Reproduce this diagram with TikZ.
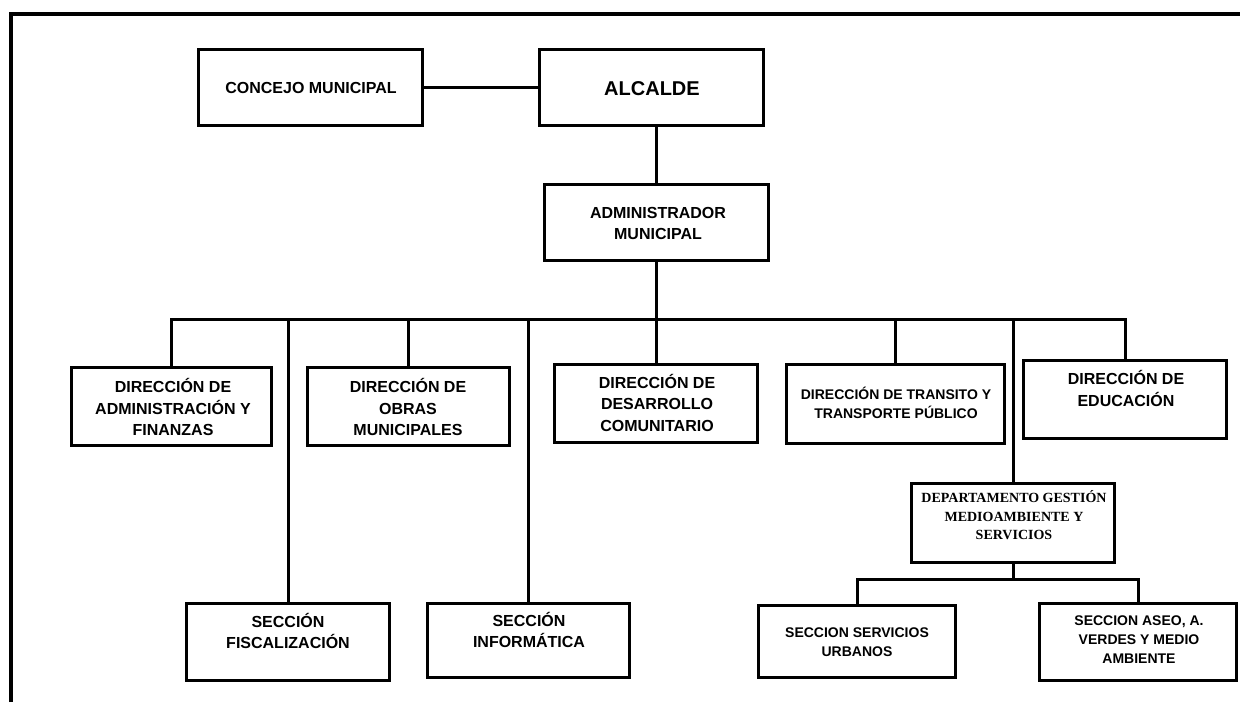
\documentclass[tikz,border=0pt]{standalone}
\usepackage{fontspec}
\setmainfont{Liberation Sans}
\newfontfamily\serifbold{Liberation Serif}
\usetikzlibrary{calc}
\begin{document}
\begin{tikzpicture}[x=1pt,y=-1pt,
  orgbox/.style={draw, line width=3pt, inner sep=0pt, rectangle},
  link/.style={line width=3pt},
  frame/.style={line width=4pt},
  tbig/.style={font=\bfseries\fontsize{20}{24}\selectfont, align=center, inner sep=0pt},
  tmid/.style={font=\bfseries\fontsize{16}{21.5}\selectfont, align=center, inner sep=0pt},
  tsmall/.style={font=\bfseries\fontsize{14}{19}\selectfont, align=center, inner sep=0pt},
  tserif/.style={font=\serifbold\bfseries\fontsize{14}{18.5}\selectfont, align=center, inner sep=0pt}
]
\useasboundingbox (0,0) rectangle (1240,702);
\fill[white] (0,0) rectangle (1240,702);

% outer frame
\coordinate (fA) at (10.5,702);
\coordinate (fB) at (10.5,14);
\coordinate (fC) at (1240,14);
\draw[frame] (fA) -- (fB) -- (fC);

% boxes
\node[orgbox, minimum width=224pt, minimum height=76pt] (conc) at (310.5,87.5) {};
\node[orgbox, minimum width=224pt, minimum height=76pt] (alc) at (651.5,87.5) {};
\node[orgbox, minimum width=224pt, minimum height=76pt] (adm) at (656.5,222.5) {};
\node[orgbox, minimum width=200pt, minimum height=78pt] (dadm) at (171.5,406.5) {};
\node[orgbox, minimum width=202pt, minimum height=78pt] (obras) at (408.5,406.5) {};
\node[orgbox, minimum width=203pt, minimum height=78pt] (desa) at (656,403.5) {};
\node[orgbox, minimum width=218pt, minimum height=79pt] (tran) at (895.5,404) {};
\node[orgbox, minimum width=203pt, minimum height=78pt] (edu) at (1125,399.5) {};
\node[orgbox, minimum width=203pt, minimum height=79pt] (dept) at (1013,523) {};
\node[orgbox, minimum width=203pt, minimum height=77pt] (fisc) at (288,642) {};
\node[orgbox, minimum width=202pt, minimum height=74pt] (info) at (528.5,640.5) {};
\node[orgbox, minimum width=197pt, minimum height=72pt] (serv) at (857,641.5) {};
\node[orgbox, minimum width=197pt, minimum height=77pt] (aseo) at (1138,642) {};

% texts
\node[tmid] (tconc) at (311,87.5) {CONCEJO MUNICIPAL};
\node[tbig] (talc) at (652,89) {ALCALDE};
\node[tmid] (tadm) at (658,223.5) {ADMINISTRADOR\\MUNICIPAL};
\node[tmid] (tdadm) at (173,407) {DIRECCIÓN DE\\ADMINISTRACIÓN Y\\FINANZAS};
\node[tmid] (tobras) at (408,407) {DIRECCIÓN DE\\OBRAS\\MUNICIPALES};
\node[tmid] (tdesa) at (657,402.5) {DIRECCIÓN DE\\DESARROLLO\\COMUNITARIO};
\node[tsmall] (ttran) at (896,402.5) {DIRECCIÓN DE TRANSITO Y\\TRANSPORTE PÚBLICO};
\node[tmid] (tedu) at (1126,388.5) {DIRECCIÓN DE\\EDUCACIÓN};
\node[tserif] (tdept) at (1014,515.5) {DEPARTAMENTO GESTIÓN\\MEDIOAMBIENTE Y\\SERVICIOS};
\node[tmid] (tfisc) at (288,631) {SECCIÓN\\FISCALIZACIÓN};
\node[tmid] (tinfo) at (529,630) {SECCIÓN\\INFORMÁTICA};
\node[tsmall] (tserv) at (857,642.5) {SECCION SERVICIOS\\URBANOS};
\node[tsmall] (taseo) at (1139,639.5) {SECCION ASEO, A.\\VERDES Y MEDIO\\AMBIENTE};

% connectors
\coordinate (bus) at (0,319);
\coordinate (sbus) at (0,579);
\draw[link] (conc.east) -- (alc.west);
\draw[link] (alc.south -| adm.north) -- (adm.north);
\draw[link] (adm.south) -- (adm.south |- bus);
\draw[link] (dadm.north) -- (dadm.north |- bus) -- (edu.north |- bus) -- (edu.north);
\draw[link] (fisc.north) -- (fisc.north |- bus);
\draw[link] (obras.north) -- (obras.north |- bus);
\draw[link] (info.north) -- (info.north |- bus);
\draw[link] (desa.north) -- (desa.north |- bus);
\draw[link] (tran.north) -- (tran.north |- bus);
\draw[link] (dept.north) -- (dept.north |- bus);
\draw[link] (dept.south) -- (dept.south |- sbus);
\draw[link] (serv.north) -- (serv.north |- sbus) -- (aseo.north |- sbus) -- (aseo.north);
\end{tikzpicture}
\end{document}
